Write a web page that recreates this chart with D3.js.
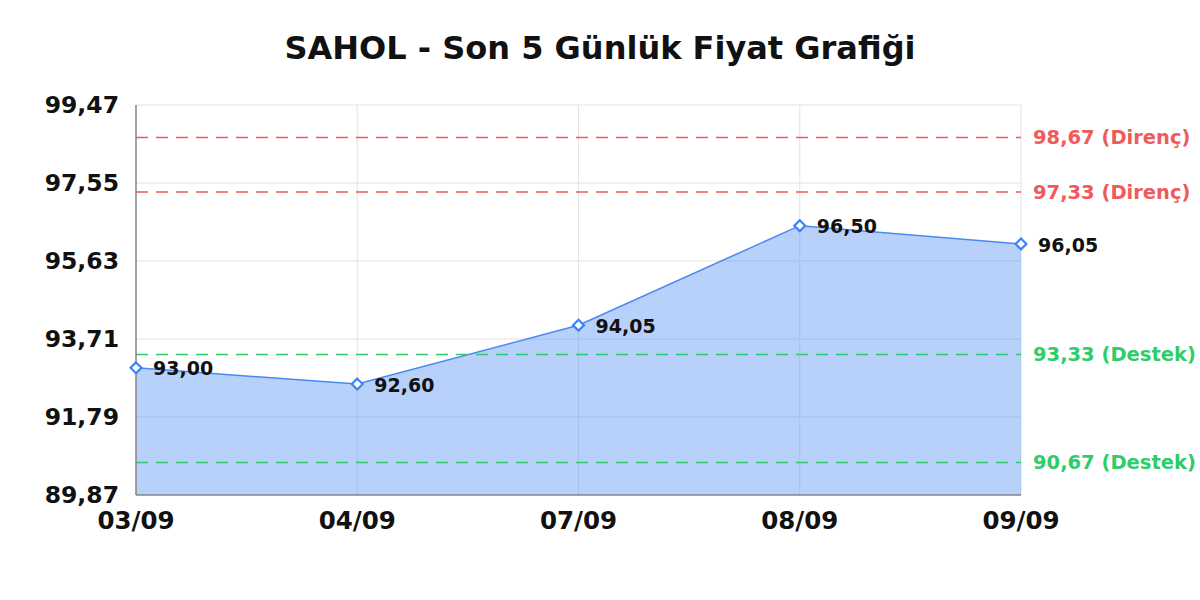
<!DOCTYPE html>
<html>
<head>
<meta charset="utf-8">
<script src="https://cdn.jsdelivr.net/npm/d3@7"></script>
<style>
  body { margin: 0; background: #fff; }
  text { font-family: "DejaVu Sans", sans-serif; font-weight: bold; }
</style>
</head>
<body>
<div id="chart"></div>
<script>
// data
let dates = ["03/09", "04/09", "07/09", "08/09", "09/09"];
let prices = [93.00, 92.60, 94.05, 96.50, 96.05];
let yTicks = [89.87, 91.79, 93.71, 95.63, 97.55, 99.47];
let resistance = [98.67, 97.33];
let support = [93.33, 90.67];

let width = 1200,
  height = 600,
  margin = { top: 105, right: 179, bottom: 105, left: 136 };

let fmt = (v) => v.toFixed(2).replace(".", ",");

let svg = d3.select("#chart").append("svg")
  .attr("width", width)
  .attr("height", height);

let x = d3.scalePoint()
  .domain(dates)
  .range([margin.left, width - margin.right]);

let y = d3.scaleLinear()
  .domain([yTicks[0], yTicks[yTicks.length - 1]])
  .range([height - margin.bottom, margin.top]);

// title
svg.append("text")
  .attr("x", width / 2)
  .attr("y", 59)
  .attr("text-anchor", "middle")
  .style("font-size", "32px")
  .style("fill", "#111")
  .text("SAHOL - Son 5 Günlük Fiyat Grafiği");

// grid
svg.append("g")
  .selectAll("line")
  .data(yTicks)
  .enter()
  .append("line")
  .attr("x1", margin.left)
  .attr("x2", width - margin.right)
  .attr("y1", (d) => y(d))
  .attr("y2", (d) => y(d))
  .style("stroke", "#e3e3e3")
  .style("stroke-width", 1);

svg.append("g")
  .selectAll("line")
  .data(dates)
  .enter()
  .append("line")
  .attr("x1", (d) => x(d))
  .attr("x2", (d) => x(d))
  .attr("y1", margin.top)
  .attr("y2", height - margin.bottom)
  .style("stroke", "#e3e3e3")
  .style("stroke-width", 1);

// area + line
let area = d3.area()
  .x((d, i) => x(dates[i]))
  .y0(height - margin.bottom)
  .y1((d) => y(d));

let line = d3.line()
  .x((d, i) => x(dates[i]))
  .y((d) => y(d));

svg.append("path")
  .datum(prices)
  .attr("d", area)
  .style("fill", "rgba(66,133,244,0.38)");

svg.append("path")
  .datum(prices)
  .attr("d", line)
  .style("fill", "none")
  .style("stroke", "#4a88f2")
  .style("stroke-width", 1.5);

// support / resistance lines
let levels = resistance.map((v) => ({ v: v, label: "Direnç", color: "#f05a5a" }))
  .concat(support.map((v) => ({ v: v, label: "Destek", color: "#2ecc6a" })));

let lv = svg.append("g")
  .selectAll("g")
  .data(levels)
  .enter()
  .append("g");

lv.append("line")
  .attr("x1", margin.left)
  .attr("x2", width - margin.right)
  .attr("y1", (d) => y(d.v))
  .attr("y2", (d) => y(d.v))
  .style("stroke", (d) => d.color)
  .style("stroke-width", 1.5)
  .style("stroke-dasharray", "12,8");

lv.append("text")
  .attr("x", width - margin.right + 12)
  .attr("y", (d) => y(d.v))
  .attr("dy", "0.35em")
  .style("font-size", "19.5px")
  .style("fill", (d) => d.color)
  .text((d) => fmt(d.v) + " (" + d.label + ")");

// axes lines
svg.append("line")
  .attr("x1", margin.left)
  .attr("x2", margin.left)
  .attr("y1", margin.top)
  .attr("y2", height - margin.bottom)
  .style("stroke", "#888")
  .style("stroke-width", 1.5);

svg.append("line")
  .attr("x1", margin.left)
  .attr("x2", width - margin.right)
  .attr("y1", height - margin.bottom)
  .attr("y2", height - margin.bottom)
  .style("stroke", "#888")
  .style("stroke-width", 1.5);

// tick labels
svg.append("g")
  .selectAll("text")
  .data(yTicks)
  .enter()
  .append("text")
  .attr("x", margin.left - 17)
  .attr("y", (d) => y(d))
  .attr("dy", "0.35em")
  .attr("text-anchor", "end")
  .style("font-size", "23.5px")
  .style("fill", "#111")
  .text(fmt);

svg.append("g")
  .selectAll("text")
  .data(dates)
  .enter()
  .append("text")
  .attr("x", (d) => x(d))
  .attr("y", height - margin.bottom + 25)
  .attr("dy", "0.35em")
  .attr("text-anchor", "middle")
  .style("font-size", "24.5px")
  .style("fill", "#111")
  .text((d) => d);

// markers + labels
let diamond = d3.symbol().type(d3.symbolDiamond2).size(75);

svg.append("g")
  .selectAll("path")
  .data(prices)
  .enter()
  .append("path")
  .attr("d", diamond)
  .attr("transform", (d, i) => "translate(" + x(dates[i]) + "," + y(d) + ")")
  .style("fill", "#fff")
  .style("stroke", "#3b82f6")
  .style("stroke-width", 2.2);

svg.append("g")
  .selectAll("text")
  .data(prices)
  .enter()
  .append("text")
  .attr("x", (d, i) => x(dates[i]) + 17)
  .attr("y", (d) => y(d))
  .attr("dy", "0.4em")
  .style("font-size", "19px")
  .style("fill", "#111")
  .text(fmt);
</script>
</body>
</html>
